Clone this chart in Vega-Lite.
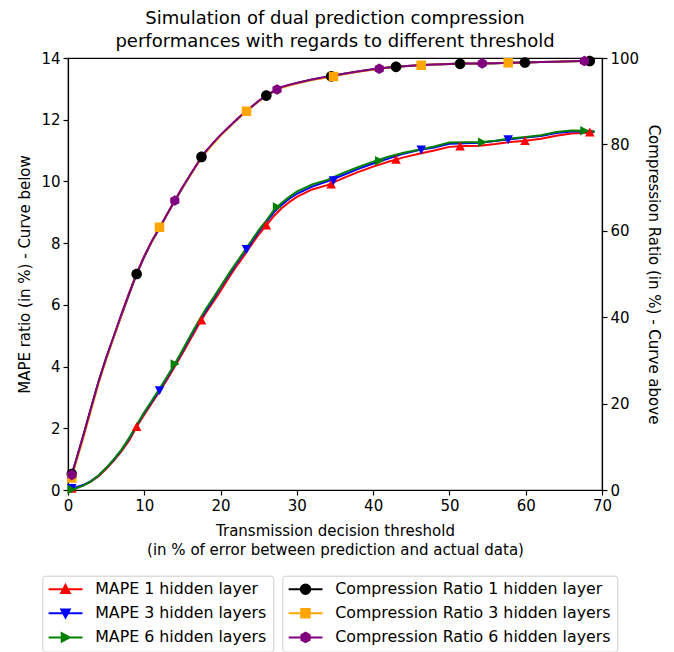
{
  "$schema": "https://vega.github.io/schema/vega-lite/v6.json",
  "width": 534,
  "height": 432,
  "autosize": "none",
  "padding": {"left": 68, "top": 58, "right": 72, "bottom": 162},
  "config": {
    "font": "DejaVu Sans",
    "view": {"stroke": "#000", "strokeWidth": 1.2},
    "axis": {"labelFontSize": 15, "titleFontSize": 15, "labelColor": "#000", "titleColor": "#000", "titleFontWeight": "normal", "domainColor": "#000", "domainWidth": 1.2, "tickColor": "#000", "tickSize": 5, "tickWidth": 1.2, "grid": false, "labelPadding": 3, "labelFlush": false}
  },
  "title": {"text": ["Simulation of dual prediction compression", "performances with regards to different threshold"], "fontSize": 18, "fontWeight": "normal", "color": "#000", "frame": "group", "anchor": "middle", "offset": 0, "lineHeight": 23},
  "datasets": {
    "mapeLines": [
      {"threshold":0.5,"series":"MAPE 1 hidden layer","value":0.05},{"threshold":1,"series":"MAPE 1 hidden layer","value":0.07},{"threshold":2,"series":"MAPE 1 hidden layer","value":0.15},{"threshold":3,"series":"MAPE 1 hidden layer","value":0.27},{"threshold":4,"series":"MAPE 1 hidden layer","value":0.45},{"threshold":5,"series":"MAPE 1 hidden layer","value":0.68},{"threshold":6,"series":"MAPE 1 hidden layer","value":0.95},{"threshold":7,"series":"MAPE 1 hidden layer","value":1.25},{"threshold":8,"series":"MAPE 1 hidden layer","value":1.6},{"threshold":9,"series":"MAPE 1 hidden layer","value":2.05},{"threshold":10,"series":"MAPE 1 hidden layer","value":2.44},{"threshold":11,"series":"MAPE 1 hidden layer","value":2.82},{"threshold":12,"series":"MAPE 1 hidden layer","value":3.19},{"threshold":13,"series":"MAPE 1 hidden layer","value":3.58},{"threshold":14,"series":"MAPE 1 hidden layer","value":4.0},{"threshold":15,"series":"MAPE 1 hidden layer","value":4.42},{"threshold":16,"series":"MAPE 1 hidden layer","value":4.86},{"threshold":17,"series":"MAPE 1 hidden layer","value":5.3},{"threshold":18,"series":"MAPE 1 hidden layer","value":5.71},{"threshold":19,"series":"MAPE 1 hidden layer","value":6.08},{"threshold":20,"series":"MAPE 1 hidden layer","value":6.45},{"threshold":21,"series":"MAPE 1 hidden layer","value":6.85},{"threshold":22,"series":"MAPE 1 hidden layer","value":7.22},{"threshold":23,"series":"MAPE 1 hidden layer","value":7.56},{"threshold":24,"series":"MAPE 1 hidden layer","value":7.93},{"threshold":25,"series":"MAPE 1 hidden layer","value":8.28},{"threshold":26,"series":"MAPE 1 hidden layer","value":8.58},{"threshold":27,"series":"MAPE 1 hidden layer","value":8.88},{"threshold":28,"series":"MAPE 1 hidden layer","value":9.13},{"threshold":29,"series":"MAPE 1 hidden layer","value":9.33},{"threshold":30,"series":"MAPE 1 hidden layer","value":9.5},{"threshold":32,"series":"MAPE 1 hidden layer","value":9.74},{"threshold":34,"series":"MAPE 1 hidden layer","value":9.88},{"threshold":36,"series":"MAPE 1 hidden layer","value":10.1},{"threshold":38,"series":"MAPE 1 hidden layer","value":10.3},{"threshold":40,"series":"MAPE 1 hidden layer","value":10.48},{"threshold":42,"series":"MAPE 1 hidden layer","value":10.64},{"threshold":44,"series":"MAPE 1 hidden layer","value":10.78},{"threshold":46,"series":"MAPE 1 hidden layer","value":10.9},{"threshold":48,"series":"MAPE 1 hidden layer","value":11.0},{"threshold":50,"series":"MAPE 1 hidden layer","value":11.12},{"threshold":52,"series":"MAPE 1 hidden layer","value":11.15},{"threshold":54,"series":"MAPE 1 hidden layer","value":11.16},{"threshold":56,"series":"MAPE 1 hidden layer","value":11.21},{"threshold":58,"series":"MAPE 1 hidden layer","value":11.28},{"threshold":60,"series":"MAPE 1 hidden layer","value":11.32},{"threshold":62,"series":"MAPE 1 hidden layer","value":11.38},{"threshold":64,"series":"MAPE 1 hidden layer","value":11.48},{"threshold":66,"series":"MAPE 1 hidden layer","value":11.55},{"threshold":68,"series":"MAPE 1 hidden layer","value":11.58},{"threshold":69,"series":"MAPE 1 hidden layer","value":11.6},
      {"threshold":0.5,"series":"MAPE 3 hidden layers","value":0.06},{"threshold":1,"series":"MAPE 3 hidden layers","value":0.08},{"threshold":2,"series":"MAPE 3 hidden layers","value":0.16},{"threshold":3,"series":"MAPE 3 hidden layers","value":0.29},{"threshold":4,"series":"MAPE 3 hidden layers","value":0.47},{"threshold":5,"series":"MAPE 3 hidden layers","value":0.71},{"threshold":6,"series":"MAPE 3 hidden layers","value":0.98},{"threshold":7,"series":"MAPE 3 hidden layers","value":1.29},{"threshold":8,"series":"MAPE 3 hidden layers","value":1.66},{"threshold":9,"series":"MAPE 3 hidden layers","value":2.09},{"threshold":10,"series":"MAPE 3 hidden layers","value":2.5},{"threshold":11,"series":"MAPE 3 hidden layers","value":2.87},{"threshold":12,"series":"MAPE 3 hidden layers","value":3.23},{"threshold":13,"series":"MAPE 3 hidden layers","value":3.65},{"threshold":14,"series":"MAPE 3 hidden layers","value":4.06},{"threshold":15,"series":"MAPE 3 hidden layers","value":4.5},{"threshold":16,"series":"MAPE 3 hidden layers","value":4.94},{"threshold":17,"series":"MAPE 3 hidden layers","value":5.38},{"threshold":18,"series":"MAPE 3 hidden layers","value":5.79},{"threshold":19,"series":"MAPE 3 hidden layers","value":6.16},{"threshold":20,"series":"MAPE 3 hidden layers","value":6.56},{"threshold":21,"series":"MAPE 3 hidden layers","value":6.94},{"threshold":22,"series":"MAPE 3 hidden layers","value":7.31},{"threshold":23,"series":"MAPE 3 hidden layers","value":7.66},{"threshold":24,"series":"MAPE 3 hidden layers","value":8.01},{"threshold":25,"series":"MAPE 3 hidden layers","value":8.37},{"threshold":26,"series":"MAPE 3 hidden layers","value":8.69},{"threshold":27,"series":"MAPE 3 hidden layers","value":9.0},{"threshold":28,"series":"MAPE 3 hidden layers","value":9.24},{"threshold":29,"series":"MAPE 3 hidden layers","value":9.44},{"threshold":30,"series":"MAPE 3 hidden layers","value":9.6},{"threshold":32,"series":"MAPE 3 hidden layers","value":9.83},{"threshold":34,"series":"MAPE 3 hidden layers","value":10.0},{"threshold":36,"series":"MAPE 3 hidden layers","value":10.2},{"threshold":38,"series":"MAPE 3 hidden layers","value":10.4},{"threshold":40,"series":"MAPE 3 hidden layers","value":10.58},{"threshold":42,"series":"MAPE 3 hidden layers","value":10.74},{"threshold":44,"series":"MAPE 3 hidden layers","value":10.9},{"threshold":46,"series":"MAPE 3 hidden layers","value":11.02},{"threshold":48,"series":"MAPE 3 hidden layers","value":11.1},{"threshold":50,"series":"MAPE 3 hidden layers","value":11.22},{"threshold":52,"series":"MAPE 3 hidden layers","value":11.24},{"threshold":54,"series":"MAPE 3 hidden layers","value":11.25},{"threshold":56,"series":"MAPE 3 hidden layers","value":11.31},{"threshold":58,"series":"MAPE 3 hidden layers","value":11.37},{"threshold":60,"series":"MAPE 3 hidden layers","value":11.42},{"threshold":62,"series":"MAPE 3 hidden layers","value":11.47},{"threshold":64,"series":"MAPE 3 hidden layers","value":11.57},{"threshold":66,"series":"MAPE 3 hidden layers","value":11.62},{"threshold":68,"series":"MAPE 3 hidden layers","value":11.63},{"threshold":69,"series":"MAPE 3 hidden layers","value":11.62},
      {"threshold":0.5,"series":"MAPE 6 hidden layers","value":0.02},{"threshold":1,"series":"MAPE 6 hidden layers","value":0.05},{"threshold":2,"series":"MAPE 6 hidden layers","value":0.14},{"threshold":3,"series":"MAPE 6 hidden layers","value":0.28},{"threshold":4,"series":"MAPE 6 hidden layers","value":0.47},{"threshold":5,"series":"MAPE 6 hidden layers","value":0.71},{"threshold":6,"series":"MAPE 6 hidden layers","value":0.99},{"threshold":7,"series":"MAPE 6 hidden layers","value":1.3},{"threshold":8,"series":"MAPE 6 hidden layers","value":1.68},{"threshold":9,"series":"MAPE 6 hidden layers","value":2.11},{"threshold":10,"series":"MAPE 6 hidden layers","value":2.52},{"threshold":11,"series":"MAPE 6 hidden layers","value":2.9},{"threshold":12,"series":"MAPE 6 hidden layers","value":3.28},{"threshold":13,"series":"MAPE 6 hidden layers","value":3.68},{"threshold":14,"series":"MAPE 6 hidden layers","value":4.08},{"threshold":15,"series":"MAPE 6 hidden layers","value":4.53},{"threshold":16,"series":"MAPE 6 hidden layers","value":4.98},{"threshold":17,"series":"MAPE 6 hidden layers","value":5.42},{"threshold":18,"series":"MAPE 6 hidden layers","value":5.84},{"threshold":19,"series":"MAPE 6 hidden layers","value":6.21},{"threshold":20,"series":"MAPE 6 hidden layers","value":6.59},{"threshold":21,"series":"MAPE 6 hidden layers","value":6.98},{"threshold":22,"series":"MAPE 6 hidden layers","value":7.35},{"threshold":23,"series":"MAPE 6 hidden layers","value":7.7},{"threshold":24,"series":"MAPE 6 hidden layers","value":8.06},{"threshold":25,"series":"MAPE 6 hidden layers","value":8.42},{"threshold":26,"series":"MAPE 6 hidden layers","value":8.73},{"threshold":27,"series":"MAPE 6 hidden layers","value":9.08},{"threshold":28,"series":"MAPE 6 hidden layers","value":9.3},{"threshold":29,"series":"MAPE 6 hidden layers","value":9.5},{"threshold":30,"series":"MAPE 6 hidden layers","value":9.67},{"threshold":32,"series":"MAPE 6 hidden layers","value":9.9},{"threshold":34,"series":"MAPE 6 hidden layers","value":10.05},{"threshold":36,"series":"MAPE 6 hidden layers","value":10.27},{"threshold":38,"series":"MAPE 6 hidden layers","value":10.46},{"threshold":40,"series":"MAPE 6 hidden layers","value":10.64},{"threshold":42,"series":"MAPE 6 hidden layers","value":10.8},{"threshold":44,"series":"MAPE 6 hidden layers","value":10.93},{"threshold":46,"series":"MAPE 6 hidden layers","value":11.03},{"threshold":48,"series":"MAPE 6 hidden layers","value":11.13},{"threshold":50,"series":"MAPE 6 hidden layers","value":11.26},{"threshold":52,"series":"MAPE 6 hidden layers","value":11.27},{"threshold":54,"series":"MAPE 6 hidden layers","value":11.27},{"threshold":56,"series":"MAPE 6 hidden layers","value":11.32},{"threshold":58,"series":"MAPE 6 hidden layers","value":11.39},{"threshold":60,"series":"MAPE 6 hidden layers","value":11.44},{"threshold":62,"series":"MAPE 6 hidden layers","value":11.5},{"threshold":64,"series":"MAPE 6 hidden layers","value":11.6},{"threshold":66,"series":"MAPE 6 hidden layers","value":11.65},{"threshold":68,"series":"MAPE 6 hidden layers","value":11.64},{"threshold":69,"series":"MAPE 6 hidden layers","value":11.62}
    ],
    "mapeMarkers": [
      {"threshold":0.5,"series":"MAPE 1 hidden layer","value":0.05},{"threshold":9,"series":"MAPE 1 hidden layer","value":2.05},{"threshold":17.5,"series":"MAPE 1 hidden layer","value":5.5},{"threshold":26,"series":"MAPE 1 hidden layer","value":8.58},{"threshold":34.5,"series":"MAPE 1 hidden layer","value":9.91},{"threshold":43,"series":"MAPE 1 hidden layer","value":10.71},{"threshold":51.4,"series":"MAPE 1 hidden layer","value":11.14},{"threshold":59.9,"series":"MAPE 1 hidden layer","value":11.32},{"threshold":68.4,"series":"MAPE 1 hidden layer","value":11.59},
      {"threshold":0.5,"series":"MAPE 3 hidden layers","value":0.06},{"threshold":12,"series":"MAPE 3 hidden layers","value":3.23},{"threshold":23.4,"series":"MAPE 3 hidden layers","value":7.8},{"threshold":34.8,"series":"MAPE 3 hidden layers","value":10.03},{"threshold":46.3,"series":"MAPE 3 hidden layers","value":11.03},{"threshold":57.7,"series":"MAPE 3 hidden layers","value":11.36},
      {"threshold":0.5,"series":"MAPE 6 hidden layers","value":0.02},{"threshold":14,"series":"MAPE 6 hidden layers","value":4.08},{"threshold":27.4,"series":"MAPE 6 hidden layers","value":9.17},{"threshold":40.8,"series":"MAPE 6 hidden layers","value":10.67},{"threshold":54.3,"series":"MAPE 6 hidden layers","value":11.27},{"threshold":67.7,"series":"MAPE 6 hidden layers","value":11.64}
    ],
    "crLines": [
      {"threshold":0.5,"series":"Compression Ratio 1 hidden layer","value":3.7},{"threshold":1,"series":"Compression Ratio 1 hidden layer","value":6.6},{"threshold":2,"series":"Compression Ratio 1 hidden layer","value":12.6},{"threshold":3,"series":"Compression Ratio 1 hidden layer","value":18.9},{"threshold":4,"series":"Compression Ratio 1 hidden layer","value":25.1},{"threshold":5,"series":"Compression Ratio 1 hidden layer","value":30.6},{"threshold":6,"series":"Compression Ratio 1 hidden layer","value":35.5},{"threshold":7,"series":"Compression Ratio 1 hidden layer","value":40.4},{"threshold":8,"series":"Compression Ratio 1 hidden layer","value":45.3},{"threshold":9,"series":"Compression Ratio 1 hidden layer","value":50.0},{"threshold":10,"series":"Compression Ratio 1 hidden layer","value":54.0},{"threshold":11,"series":"Compression Ratio 1 hidden layer","value":57.5},{"threshold":12,"series":"Compression Ratio 1 hidden layer","value":60.6},{"threshold":13,"series":"Compression Ratio 1 hidden layer","value":63.8},{"threshold":14,"series":"Compression Ratio 1 hidden layer","value":66.9},{"threshold":15,"series":"Compression Ratio 1 hidden layer","value":69.9},{"threshold":16,"series":"Compression Ratio 1 hidden layer","value":72.8},{"threshold":17,"series":"Compression Ratio 1 hidden layer","value":75.6},{"threshold":18,"series":"Compression Ratio 1 hidden layer","value":78.2},{"threshold":19,"series":"Compression Ratio 1 hidden layer","value":80.2},{"threshold":20,"series":"Compression Ratio 1 hidden layer","value":82.1},{"threshold":21,"series":"Compression Ratio 1 hidden layer","value":83.8},{"threshold":22,"series":"Compression Ratio 1 hidden layer","value":85.5},{"threshold":23,"series":"Compression Ratio 1 hidden layer","value":87.1},{"threshold":24,"series":"Compression Ratio 1 hidden layer","value":88.6},{"threshold":25,"series":"Compression Ratio 1 hidden layer","value":90.0},{"threshold":26,"series":"Compression Ratio 1 hidden layer","value":91.3},{"threshold":27,"series":"Compression Ratio 1 hidden layer","value":92.3},{"threshold":28,"series":"Compression Ratio 1 hidden layer","value":93.2},{"threshold":29,"series":"Compression Ratio 1 hidden layer","value":93.7},{"threshold":30,"series":"Compression Ratio 1 hidden layer","value":94.2},{"threshold":32,"series":"Compression Ratio 1 hidden layer","value":95.0},{"threshold":34,"series":"Compression Ratio 1 hidden layer","value":95.6},{"threshold":36,"series":"Compression Ratio 1 hidden layer","value":96.3},{"threshold":38,"series":"Compression Ratio 1 hidden layer","value":96.9},{"threshold":40,"series":"Compression Ratio 1 hidden layer","value":97.4},{"threshold":42,"series":"Compression Ratio 1 hidden layer","value":97.8},{"threshold":44,"series":"Compression Ratio 1 hidden layer","value":98.1},{"threshold":46,"series":"Compression Ratio 1 hidden layer","value":98.35},{"threshold":48,"series":"Compression Ratio 1 hidden layer","value":98.5},{"threshold":50,"series":"Compression Ratio 1 hidden layer","value":98.6},{"threshold":52,"series":"Compression Ratio 1 hidden layer","value":98.7},{"threshold":54,"series":"Compression Ratio 1 hidden layer","value":98.75},{"threshold":56,"series":"Compression Ratio 1 hidden layer","value":98.8},{"threshold":58,"series":"Compression Ratio 1 hidden layer","value":98.9},{"threshold":60,"series":"Compression Ratio 1 hidden layer","value":98.95},{"threshold":62,"series":"Compression Ratio 1 hidden layer","value":99.05},{"threshold":64,"series":"Compression Ratio 1 hidden layer","value":99.15},{"threshold":66,"series":"Compression Ratio 1 hidden layer","value":99.25},{"threshold":68,"series":"Compression Ratio 1 hidden layer","value":99.3},{"threshold":69,"series":"Compression Ratio 1 hidden layer","value":99.35},
      {"threshold":0.5,"series":"Compression Ratio 3 hidden layers","value":2.8},{"threshold":1,"series":"Compression Ratio 3 hidden layers","value":6.0},{"threshold":2,"series":"Compression Ratio 3 hidden layers","value":12.0},{"threshold":3,"series":"Compression Ratio 3 hidden layers","value":18.3},{"threshold":4,"series":"Compression Ratio 3 hidden layers","value":24.6},{"threshold":5,"series":"Compression Ratio 3 hidden layers","value":30.2},{"threshold":6,"series":"Compression Ratio 3 hidden layers","value":35.3},{"threshold":7,"series":"Compression Ratio 3 hidden layers","value":40.5},{"threshold":8,"series":"Compression Ratio 3 hidden layers","value":45.6},{"threshold":9,"series":"Compression Ratio 3 hidden layers","value":50.2},{"threshold":10,"series":"Compression Ratio 3 hidden layers","value":54.2},{"threshold":11,"series":"Compression Ratio 3 hidden layers","value":57.6},{"threshold":12,"series":"Compression Ratio 3 hidden layers","value":60.8},{"threshold":13,"series":"Compression Ratio 3 hidden layers","value":63.9},{"threshold":14,"series":"Compression Ratio 3 hidden layers","value":67.0},{"threshold":15,"series":"Compression Ratio 3 hidden layers","value":70.0},{"threshold":16,"series":"Compression Ratio 3 hidden layers","value":72.8},{"threshold":17,"series":"Compression Ratio 3 hidden layers","value":75.5},{"threshold":18,"series":"Compression Ratio 3 hidden layers","value":78.0},{"threshold":19,"series":"Compression Ratio 3 hidden layers","value":80.1},{"threshold":20,"series":"Compression Ratio 3 hidden layers","value":82.0},{"threshold":21,"series":"Compression Ratio 3 hidden layers","value":83.8},{"threshold":22,"series":"Compression Ratio 3 hidden layers","value":85.5},{"threshold":23,"series":"Compression Ratio 3 hidden layers","value":87.1},{"threshold":24,"series":"Compression Ratio 3 hidden layers","value":88.6},{"threshold":25,"series":"Compression Ratio 3 hidden layers","value":90.0},{"threshold":26,"series":"Compression Ratio 3 hidden layers","value":91.2},{"threshold":27,"series":"Compression Ratio 3 hidden layers","value":92.3},{"threshold":28,"series":"Compression Ratio 3 hidden layers","value":93.1},{"threshold":29,"series":"Compression Ratio 3 hidden layers","value":93.6},{"threshold":30,"series":"Compression Ratio 3 hidden layers","value":94.1},{"threshold":32,"series":"Compression Ratio 3 hidden layers","value":94.9},{"threshold":34,"series":"Compression Ratio 3 hidden layers","value":95.5},{"threshold":36,"series":"Compression Ratio 3 hidden layers","value":96.2},{"threshold":38,"series":"Compression Ratio 3 hidden layers","value":96.8},{"threshold":40,"series":"Compression Ratio 3 hidden layers","value":97.3},{"threshold":42,"series":"Compression Ratio 3 hidden layers","value":97.8},{"threshold":44,"series":"Compression Ratio 3 hidden layers","value":98.1},{"threshold":46,"series":"Compression Ratio 3 hidden layers","value":98.3},{"threshold":48,"series":"Compression Ratio 3 hidden layers","value":98.5},{"threshold":50,"series":"Compression Ratio 3 hidden layers","value":98.6},{"threshold":52,"series":"Compression Ratio 3 hidden layers","value":98.7},{"threshold":54,"series":"Compression Ratio 3 hidden layers","value":98.75},{"threshold":56,"series":"Compression Ratio 3 hidden layers","value":98.8},{"threshold":58,"series":"Compression Ratio 3 hidden layers","value":98.9},{"threshold":60,"series":"Compression Ratio 3 hidden layers","value":98.95},{"threshold":62,"series":"Compression Ratio 3 hidden layers","value":99.05},{"threshold":64,"series":"Compression Ratio 3 hidden layers","value":99.15},{"threshold":66,"series":"Compression Ratio 3 hidden layers","value":99.25},{"threshold":68,"series":"Compression Ratio 3 hidden layers","value":99.3},{"threshold":69,"series":"Compression Ratio 3 hidden layers","value":99.35},
      {"threshold":0.5,"series":"Compression Ratio 6 hidden layers","value":3.5},{"threshold":1,"series":"Compression Ratio 6 hidden layers","value":6.5},{"threshold":2,"series":"Compression Ratio 6 hidden layers","value":12.5},{"threshold":3,"series":"Compression Ratio 6 hidden layers","value":18.8},{"threshold":4,"series":"Compression Ratio 6 hidden layers","value":25.0},{"threshold":5,"series":"Compression Ratio 6 hidden layers","value":30.5},{"threshold":6,"series":"Compression Ratio 6 hidden layers","value":35.6},{"threshold":7,"series":"Compression Ratio 6 hidden layers","value":40.7},{"threshold":8,"series":"Compression Ratio 6 hidden layers","value":45.5},{"threshold":9,"series":"Compression Ratio 6 hidden layers","value":50.1},{"threshold":10,"series":"Compression Ratio 6 hidden layers","value":54.1},{"threshold":11,"series":"Compression Ratio 6 hidden layers","value":57.7},{"threshold":12,"series":"Compression Ratio 6 hidden layers","value":60.7},{"threshold":13,"series":"Compression Ratio 6 hidden layers","value":63.9},{"threshold":14,"series":"Compression Ratio 6 hidden layers","value":67.0},{"threshold":15,"series":"Compression Ratio 6 hidden layers","value":70.1},{"threshold":16,"series":"Compression Ratio 6 hidden layers","value":72.9},{"threshold":17,"series":"Compression Ratio 6 hidden layers","value":75.7},{"threshold":18,"series":"Compression Ratio 6 hidden layers","value":78.2},{"threshold":19,"series":"Compression Ratio 6 hidden layers","value":80.3},{"threshold":20,"series":"Compression Ratio 6 hidden layers","value":82.2},{"threshold":21,"series":"Compression Ratio 6 hidden layers","value":83.9},{"threshold":22,"series":"Compression Ratio 6 hidden layers","value":85.6},{"threshold":23,"series":"Compression Ratio 6 hidden layers","value":87.2},{"threshold":24,"series":"Compression Ratio 6 hidden layers","value":88.6},{"threshold":25,"series":"Compression Ratio 6 hidden layers","value":90.1},{"threshold":26,"series":"Compression Ratio 6 hidden layers","value":91.3},{"threshold":27,"series":"Compression Ratio 6 hidden layers","value":92.4},{"threshold":28,"series":"Compression Ratio 6 hidden layers","value":93.3},{"threshold":29,"series":"Compression Ratio 6 hidden layers","value":93.8},{"threshold":30,"series":"Compression Ratio 6 hidden layers","value":94.2},{"threshold":32,"series":"Compression Ratio 6 hidden layers","value":95.0},{"threshold":34,"series":"Compression Ratio 6 hidden layers","value":95.7},{"threshold":36,"series":"Compression Ratio 6 hidden layers","value":96.3},{"threshold":38,"series":"Compression Ratio 6 hidden layers","value":96.9},{"threshold":40,"series":"Compression Ratio 6 hidden layers","value":97.4},{"threshold":42,"series":"Compression Ratio 6 hidden layers","value":97.8},{"threshold":44,"series":"Compression Ratio 6 hidden layers","value":98.1},{"threshold":46,"series":"Compression Ratio 6 hidden layers","value":98.35},{"threshold":48,"series":"Compression Ratio 6 hidden layers","value":98.5},{"threshold":50,"series":"Compression Ratio 6 hidden layers","value":98.6},{"threshold":52,"series":"Compression Ratio 6 hidden layers","value":98.7},{"threshold":54,"series":"Compression Ratio 6 hidden layers","value":98.75},{"threshold":56,"series":"Compression Ratio 6 hidden layers","value":98.8},{"threshold":58,"series":"Compression Ratio 6 hidden layers","value":98.9},{"threshold":60,"series":"Compression Ratio 6 hidden layers","value":98.95},{"threshold":62,"series":"Compression Ratio 6 hidden layers","value":99.05},{"threshold":64,"series":"Compression Ratio 6 hidden layers","value":99.15},{"threshold":66,"series":"Compression Ratio 6 hidden layers","value":99.25},{"threshold":68,"series":"Compression Ratio 6 hidden layers","value":99.35},{"threshold":69,"series":"Compression Ratio 6 hidden layers","value":99.4}
    ],
    "crMarkers": [
      {"threshold":0.5,"series":"Compression Ratio 1 hidden layer","value":3.7},{"threshold":9,"series":"Compression Ratio 1 hidden layer","value":50.0},{"threshold":17.5,"series":"Compression Ratio 1 hidden layer","value":77.1},{"threshold":26,"series":"Compression Ratio 1 hidden layer","value":91.3},{"threshold":34.5,"series":"Compression Ratio 1 hidden layer","value":95.75},{"threshold":43,"series":"Compression Ratio 1 hidden layer","value":97.95},{"threshold":51.4,"series":"Compression Ratio 1 hidden layer","value":98.65},{"threshold":59.9,"series":"Compression Ratio 1 hidden layer","value":98.95},{"threshold":68.4,"series":"Compression Ratio 1 hidden layer","value":99.3},
      {"threshold":0.5,"series":"Compression Ratio 3 hidden layers","value":2.8},{"threshold":12,"series":"Compression Ratio 3 hidden layers","value":60.8},{"threshold":23.4,"series":"Compression Ratio 3 hidden layers","value":87.7},{"threshold":34.8,"series":"Compression Ratio 3 hidden layers","value":95.7},{"threshold":46.3,"series":"Compression Ratio 3 hidden layers","value":98.3},{"threshold":57.7,"series":"Compression Ratio 3 hidden layers","value":98.9},
      {"threshold":0.5,"series":"Compression Ratio 6 hidden layers","value":3.5},{"threshold":14,"series":"Compression Ratio 6 hidden layers","value":67.0},{"threshold":27.4,"series":"Compression Ratio 6 hidden layers","value":92.7},{"threshold":40.8,"series":"Compression Ratio 6 hidden layers","value":97.5},{"threshold":54.3,"series":"Compression Ratio 6 hidden layers","value":98.75},{"threshold":67.7,"series":"Compression Ratio 6 hidden layers","value":99.3}
    ]
  },
  "layer": [
    {
      "layer": [
        {
          "data": {"name": "mapeLines"},
          "mark": {"type": "line", "strokeWidth": 2},
          "encoding": {
            "x": {"field": "threshold", "type": "quantitative", "scale": {"domain": [0, 70], "nice": false}, "axis": {"values": [0,10,20,30,40,50,60,70], "title": ["Transmission decision threshold", "(in % of error between prediction and actual data)"], "titlePadding": 10, "titleLineHeight": 19}},
            "y": {"field": "value", "type": "quantitative", "scale": {"domain": [0, 14], "nice": false}, "axis": {"orient": "left", "values": [0,2,4,6,8,10,12,14], "title": "MAPE ratio (in %) - Curve below", "titlePadding": 8}},
            "color": {"field": "series", "type": "nominal", "sort": null,
              "scale": {"domain": ["MAPE 1 hidden layer", "MAPE 3 hidden layers", "MAPE 6 hidden layers"], "range": ["#ff0000", "#0000ff", "#008000"]},
              "legend": {"orient": "none", "legendX": -25.7, "legendY": 517.7, "title": null, "direction": "vertical", "padding": 6, "strokeColor": "#cccccc", "fillColor": "#ffffff", "cornerRadius": 3, "symbolSize": 100, "symbolOffset": 9.3, "labelOffset": 21.8, "labelFontSize": 15.8, "labelLimit": 400, "labelColor": "#000", "clipHeight": 15, "rowPadding": 7.1, "symbolStrokeWidth": 2}
            }
          }
        },
        {
          "data": {"name": "mapeMarkers"},
          "mark": {"type": "point", "filled": true, "opacity": 1, "size": 125},
          "encoding": {
            "x": {"field": "threshold", "type": "quantitative"},
            "y": {"field": "value", "type": "quantitative"},
            "color": {"field": "series", "type": "nominal", "sort": null},
            "shape": {"field": "series", "type": "nominal", "sort": null, "scale": {"domain": ["MAPE 1 hidden layer", "MAPE 3 hidden layers", "MAPE 6 hidden layers"], "range": ["M-3.4,0H3.4M0,-0.85L0.85,0.75L-0.85,0.75Z", "M-3.4,0H3.4M0,0.85L0.85,-0.75L-0.85,-0.75Z", "M-3.4,0H3.4M0.85,0L-0.75,0.85L-0.75,-0.85Z"]}, "legend": null}
          }
        }
      ]
    },
    {
      "layer": [
        {
          "data": {"name": "crLines"},
          "mark": {"type": "line", "strokeWidth": 2},
          "encoding": {
            "x": {"field": "threshold", "type": "quantitative"},
            "y": {"field": "value", "type": "quantitative", "scale": {"domain": [0, 100], "nice": false}, "axis": {"orient": "right", "values": [0,20,40,60,80,100], "title": "Compression Ratio (in %) - Curve above", "titlePadding": 7}},
            "color": {"field": "series", "type": "nominal", "sort": null,
              "scale": {"domain": ["Compression Ratio 1 hidden layer", "Compression Ratio 3 hidden layers", "Compression Ratio 6 hidden layers"], "range": ["#000000", "#ffa500", "#800080"]},
              "legend": {"orient": "none", "legendX": 214.3, "legendY": 517.7, "title": null, "direction": "vertical", "padding": 6, "strokeColor": "#cccccc", "fillColor": "#ffffff", "cornerRadius": 3, "symbolSize": 100, "symbolOffset": 9.3, "labelOffset": 21.8, "labelFontSize": 15.8, "labelLimit": 400, "labelColor": "#000", "clipHeight": 15, "rowPadding": 7.1, "symbolStrokeWidth": 2}
            }
          }
        },
        {
          "data": {"name": "crMarkers"},
          "mark": {"type": "point", "filled": true, "opacity": 1, "size": 125},
          "encoding": {
            "x": {"field": "threshold", "type": "quantitative"},
            "y": {"field": "value", "type": "quantitative"},
            "color": {"field": "series", "type": "nominal", "sort": null},
            "shape": {"field": "series", "type": "nominal", "sort": null, "scale": {"domain": ["Compression Ratio 1 hidden layer", "Compression Ratio 3 hidden layers", "Compression Ratio 6 hidden layers"], "range": ["M-3.4,0H3.4M0.95,0A0.95,0.95,0,1,1,-0.95,0A0.95,0.95,0,1,1,0.95,0Z", "M-3.4,0H3.4M-0.85,-0.85H0.85V0.85H-0.85Z", "M-3.4,0H3.4M0,-0.95L0.82,-0.48L0.82,0.48L0,0.95L-0.82,0.48L-0.82,-0.48Z"]}, "legend": null}
          }
        }
      ]
    }
  ],
  "resolve": {"scale": {"y": "independent", "color": "independent", "shape": "independent"}, "axis": {"y": "independent"}}
}
